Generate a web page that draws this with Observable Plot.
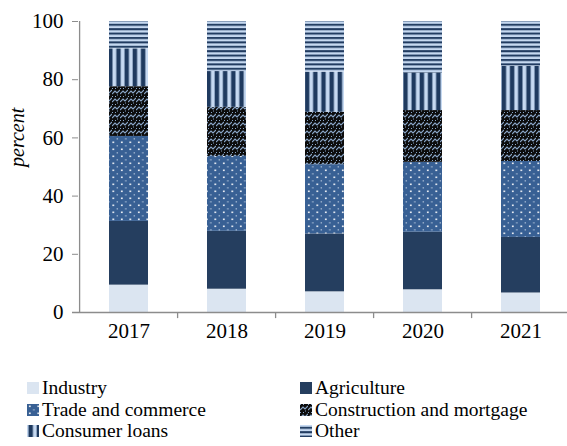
<!DOCTYPE html>
<html>
<head>
<meta charset="utf-8">
<script src="https://cdn.jsdelivr.net/npm/d3@7"></script>
<script src="https://cdn.jsdelivr.net/npm/@observablehq/plot@0.6"></script>
<style>
  html, body { margin: 0; padding: 0; background: #fff; overflow: hidden; }
  body { width: 567px; height: 446px; font-family: "Liberation Serif", "Times New Roman", serif; }
  #legend { position: relative; height: 90px; font-size: 19.5px; color: #000; }
  .item { position: absolute; display: flex; align-items: center; white-space: nowrap; line-height: 20px; }
  .item svg { margin-right: 3px; flex: none; }
</style>
</head>
<body>
<div id="chart"></div>
<div id="legend"></div>
<script>
const years = ["2017", "2018", "2019", "2020", "2021"];
const sectors = ["Industry", "Agriculture", "Trade and commerce", "Construction and mortgage", "Consumer loans", "Other"];
const industry     = [9.4, 8.0, 7.1, 7.8, 6.7];
const agriculture  = [21.9, 19.9, 19.9, 19.8, 19.1];
const trade        = [29.2, 25.7, 23.8, 24.0, 26.1];
const construction = [17.1, 16.9, 18.0, 17.8, 17.5];
const consumer     = [13.0, 12.3, 13.8, 12.9, 15.2];
const other        = [9.4, 17.2, 17.4, 17.7, 15.4];
const yTicks = [0, 20, 40, 60, 80, 100];

const seriesValues = [industry, agriculture, trade, construction, consumer, other];
const rows = [];
sectors.forEach((s, si) => years.forEach((y, yi) => rows.push({year: y, sector: s, value: seriesValues[si][yi]})));

const fills = ["url(#p-ind)", "url(#p-agr)", "url(#p-trd)", "url(#p-con)", "url(#p-cns)", "url(#p-oth)"];
const axisGray = "#8c8c8c";
const halfStep = (572 - 78) / years.length / 2;

const chart = Plot.plot({
  width: 567,
  height: 352,
  marginTop: 21,
  marginBottom: 40,
  marginLeft: 78,
  marginRight: -5,
  style: {fontFamily: "'Liberation Serif', 'Times New Roman', serif", fontSize: "21px", color: "#000", background: "#fff"},
  x: {domain: years, paddingInner: 0.6, paddingOuter: 0.3, label: null},
  y: {domain: [0, 100], label: null},
  color: {domain: sectors, range: fills},
  marks: [
    Plot.barY(rows, {x: "year", y: "value", fill: "sector", z: "sector", order: sectors}),
    Plot.ruleY([0], {stroke: axisGray, strokeWidth: 1.3, insetLeft: -6}),
    Plot.ruleX([years[0]], {y1: 0, y2: 100, dx: -halfStep, stroke: axisGray, strokeWidth: 1.3}),
    Plot.ruleX(years.slice(1), {y1: 0, y2: -2.1, dx: -halfStep, stroke: axisGray, strokeWidth: 1.3}),
    Plot.axisY({ticks: yTicks, tickSize: 6, tickPadding: 9, stroke: axisGray, fill: "#000", label: null}),
    Plot.axisX({tickSize: 0, tickPadding: 11, fill: "#000", label: null}),
    Plot.text(["percent"], {frameAnchor: "left", dx: -61, rotate: -90, fontStyle: "italic", fontSize: 20, fill: "#000"})
  ]
});

const light = "#c6d9f1", dark = "#1f3a5f";
const defs = document.createElementNS("http://www.w3.org/2000/svg", "defs");
defs.innerHTML = `
  <pattern id="p-ind" patternUnits="userSpaceOnUse" width="4" height="4"><rect width="4" height="4" fill="#dbe5f1"/></pattern>
  <pattern id="p-agr" patternUnits="userSpaceOnUse" width="4" height="4"><rect width="4" height="4" fill="#253e5f"/></pattern>
  <pattern id="p-trd" patternUnits="userSpaceOnUse" width="8.5" height="7">
    <rect width="8.5" height="7" fill="#386094"/>
    <rect x="2" y="1.5" width="1.6" height="1.6" fill="#ffffff"/>
    <rect x="6.3" y="5" width="1" height="1.6" fill="#dfe8f4" opacity="0.75"/>
  </pattern>
  <pattern id="p-con" patternUnits="userSpaceOnUse" width="8" height="8">
    <rect width="8" height="8" fill="#0c0c0c"/>
    <polyline points="0,6 3,3 5,5 8,2" fill="none" stroke="#8aa6c8" stroke-width="1.1"/>
    <polyline points="0,1 2,-1 4,1" fill="none" stroke="#8aa6c8" stroke-width="1"/>
    <rect x="5" y="6.5" width="1" height="1" fill="#8aa6c8"/>
  </pattern>
  <pattern id="p-cns" patternUnits="userSpaceOnUse" width="8.2" height="4">
    <rect width="8.2" height="4" fill="${light}"/>
    <rect x="1.5" width="4.4" height="4" fill="${dark}"/>
  </pattern>
  <pattern id="p-oth" patternUnits="userSpaceOnUse" width="4" height="4.4">
    <rect width="4" height="4.4" fill="${light}"/>
    <rect y="1.8" width="4" height="2" fill="${dark}"/>
  </pattern>`;
chart.insertBefore(defs, chart.firstChild);
document.getElementById("chart").appendChild(chart);

// Legend
const legend = document.getElementById("legend");
const positions = [[27, 0], [300, 0], [27, 1], [300, 1], [27, 2], [300, 2]];
sectors.forEach((s, i) => {
  const div = document.createElement("div");
  div.className = "item";
  div.style.left = positions[i][0] + "px";
  div.style.top = (26 + positions[i][1] * 21.6) + "px";
  div.innerHTML = `<svg width="12" height="12"><rect width="12" height="12" fill="${fills[i]}"/></svg><span>${s}</span>`;
  legend.appendChild(div);
});
</script>
</body>
</html>
